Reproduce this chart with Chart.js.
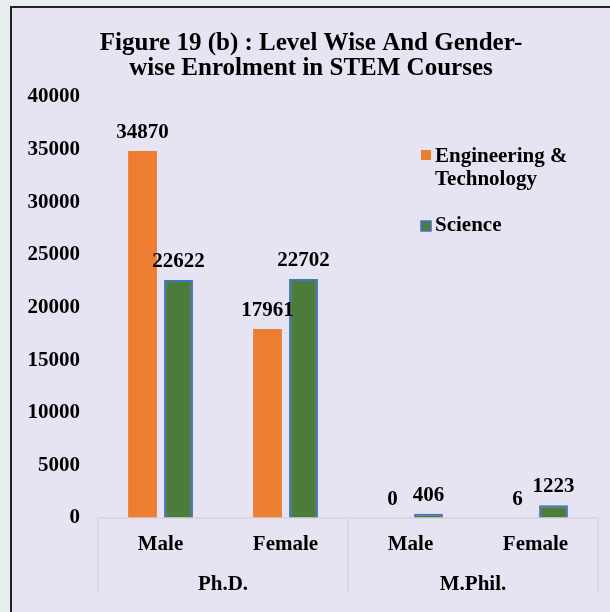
<!doctype html>
<html lang="en">
  <head>
    <meta charset="utf-8">
    <title>Figure 19 (b)</title>
    <script src="https://cdn.jsdelivr.net/npm/chart.js"></script>
    <style>
        html, body { margin: 0; padding: 0; overflow: hidden; }
        body { background: #e8eef0; width: 610px; height: 612px; }
        #frame {
            position: absolute;
            left: 10px;
            top: 6px;
            width: 610px;
            height: 620px;
            background: #e6e4f2;
            border-left: 2px solid #222;
            border-top: 2px solid #222;
        }
        #wrap { position: absolute; left: 0; top: 0; width: 598px; height: 604px; }
    </style>
  </head>
  <body>
    <div id="frame"><div id="wrap"><canvas id="chart"></canvas></div></div>

    <script>
        // data
        const subLabels = ['Male', 'Female', 'Male', 'Female']
        const groups = ['Ph.D.', 'M.Phil.']
        const engineering = [34870, 17961, 0, 6]
        const science = [22622, 22702, 406, 1223]
        const yTicks = [0, 5000, 10000, 15000, 20000, 25000, 30000, 35000, 40000]

        const FONT = 'Liberation Serif'
        const ORANGE = '#ed7d31'
        const GREEN = '#4b7c39'
        const BLUE = '#4472c4'

        const overlay = {
            id: 'overlay',
            afterDatasetsDraw(chart) {
                const ctx = chart.ctx
                const area = chart.chartArea
                const x = chart.scales.x
                ctx.save()

                // value labels over each bar
                ctx.font = 'bold 21px ' + FONT
                ctx.fillStyle = '#000'
                ctx.textAlign = 'center'
                ctx.textBaseline = 'alphabetic'
                chart.data.datasets.forEach((ds, i) => {
                    chart.getDatasetMeta(i).data.forEach((bar, j) => {
                        ctx.fillText(String(ds.data[j]), bar.x, bar.y - 13)
                    })
                })

                // group separators + group names
                ctx.strokeStyle = '#d4d4d8'
                ctx.lineWidth = 1.5
                const bottom = area.bottom + 75
                const edges = [area.left, (x.getPixelForValue(1) + x.getPixelForValue(2)) / 2, area.right]
                edges.forEach((px) => {
                    ctx.beginPath()
                    ctx.moveTo(px, area.bottom)
                    ctx.lineTo(px, bottom)
                    ctx.stroke()
                })
                ctx.beginPath()
                ctx.moveTo(area.left, area.bottom)
                ctx.lineTo(area.right, area.bottom)
                ctx.stroke()

                ctx.font = 'bold 21px ' + FONT
                ctx.textBaseline = 'middle'
                groups.forEach((g, i) => {
                    ctx.fillText(g, (edges[i] + edges[i + 1]) / 2, area.bottom + 67)
                })

                // legend
                ctx.textAlign = 'left'
                ctx.font = 'bold 21px ' + FONT
                ctx.fillStyle = ORANGE
                ctx.fillRect(409, 142, 10, 10)
                ctx.fillStyle = '#000'
                ctx.fillText('Engineering &', 423, 149)
                ctx.fillText('Technology', 423, 172)
                ctx.fillStyle = GREEN
                ctx.fillRect(409, 213, 10, 10)
                ctx.strokeStyle = BLUE
                ctx.lineWidth = 1.5
                ctx.strokeRect(409, 213, 10, 10)
                ctx.fillStyle = '#000'
                ctx.fillText('Science', 423, 218)

                ctx.restore()
            }
        }

        new Chart(document.getElementById('chart'), {
            type: 'bar',
            data: {
                labels: subLabels,
                datasets: [
                    {
                        label: 'Engineering & Technology',
                        data: engineering,
                        backgroundColor: ORANGE,
                        borderWidth: 0,
                        barPercentage: 0.8,
                        categoryPercentage: 0.576
                    },
                    {
                        label: 'Science',
                        data: science,
                        backgroundColor: GREEN,
                        borderColor: BLUE,
                        borderWidth: 2,
                        barPercentage: 0.8,
                        categoryPercentage: 0.576
                    }
                ]
            },
            options: {
                responsive: true,
                maintainAspectRatio: false,
                animation: false,
                layout: { padding: { left: 12, right: 12, top: 0, bottom: 8 } },
                plugins: {
                    legend: { display: false },
                    tooltip: { enabled: false },
                    title: {
                        display: true,
                        text: ['Figure 19 (b) : Level Wise And Gender-', 'wise Enrolment in STEM Courses'],
                        color: '#000',
                        font: { family: FONT, size: 25, weight: 'bold', lineHeight: 1.0 },
                        padding: { top: 23, bottom: 16 }
                    }
                },
                scales: {
                    x: {
                        grid: { display: false },
                        border: { display: false },
                        ticks: {
                            color: '#000',
                            font: { family: FONT, size: 21, weight: 'bold' },
                            padding: 6
                        },
                        afterFit(scale) { scale.height = 86 }
                    },
                    y: {
                        min: 0,
                        max: 40000,
                        grid: { display: false },
                        border: { display: false },
                        afterBuildTicks(scale) { scale.ticks = yTicks.map((v) => ({ value: v })) },
                        ticks: {
                            color: '#000',
                            font: { family: FONT, size: 21, weight: 'bold' },
                            padding: 10,
                            callback: (v) => String(v)
                        },
                        afterFit(scale) { scale.width = 74 }
                    }
                }
            },
            plugins: [overlay]
        })
    </script>
  </body>
</html>
